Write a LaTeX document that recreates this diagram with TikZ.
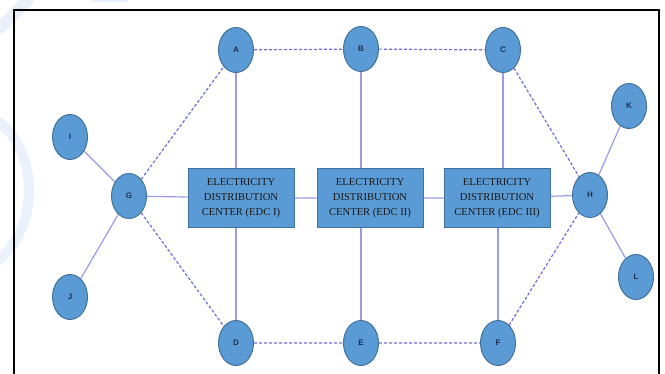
\documentclass[tikz,border=0pt]{standalone}
\usepackage{fontspec}
\setmainfont{Liberation Serif}
\newfontfamily\labelfont{Liberation Sans}
\usetikzlibrary{positioning,shapes.geometric}
\definecolor{nodeblue}{HTML}{5B9BD5}
\definecolor{rimblue}{HTML}{41719C}
\definecolor{feedline}{HTML}{9A9AE8}
\definecolor{tieline}{HTML}{6E6EDC}
\definecolor{markblue}{HTML}{EAF1FA}
\definecolor{letterblue}{HTML}{1F2F4F}

\begin{document}
\begin{tikzpicture}[x=1pt,y=-1pt,
				station/.style={ellipse,draw=rimblue,fill=nodeblue,line width=1pt,minimum width=35pt,minimum height=45pt,
					inner sep=0pt,font=\labelfont\fontsize{8}{9}\selectfont\bfseries,text=letterblue},
				edc/.style={rectangle,draw=rimblue,fill=nodeblue,line width=1pt,minimum width=106pt,minimum height=59pt,
					inner sep=0pt,align=center,text=black!90,font=\fontsize{10.6}{15}\selectfont},
				feeder/.style={draw=feedline,line width=1.2pt},
				tie/.style={draw=tieline,dashed,dash pattern=on 3pt off 2pt,line width=1.2pt}]
				\useasboundingbox (0,0) rectangle (665,374);
				% faint marks of the page behind
				\draw[markblue,line width=12pt] (30,-2) -- (-2,30);
				\draw[markblue,line width=8pt] (92,-2) -- (128,-2);
				\draw[markblue,line width=10pt] (-4,120) .. controls (40,150) and (40,230) .. (-4,262);
				\draw[black,line width=2pt] (14,376) -- (14,10) -- (659,10) -- (659,376);

				\node (EDC1) [edc] at (241,198) {ELECTRICITY\\DISTRIBUTION\\CENTER (EDC I)};
				\node (EDC2) [edc] at (370,198) {ELECTRICITY\\DISTRIBUTION\\CENTER (EDC II)};
				\node (EDC3) [edc] at (497,198) {ELECTRICITY\\DISTRIBUTION\\CENTER (EDC III)};

				\node (A) [station] at (236,50)  {A};
				\node (B) [station] at (361,49)  {B};
				\node (C) [station] at (503,50)  {C};
				\node (D) [station] at (236,343) {D};
				\node (E) [station] at (361,343) {E};
				\node (F) [station] at (498,343) {F};
				\node (G) [station] at (129,196) {G};
				\node (H) [station] at (590,195) {H};
				\node (I) [station] at (70,137)  {I};
				\node (J) [station] at (70,297)  {J};
				\node (K) [station] at (629,106) {K};
				\node (L) [station] at (636,277) {L};

				\draw[feeder] (G) -- (EDC1) (EDC1) -- (EDC2) (EDC2) -- (EDC3) (EDC3) -- (H);
				\draw[feeder] (A) -- (A |- EDC1.north) (D) -- (D |- EDC1.south);
				\draw[feeder] (B) -- (B |- EDC2.north) (E) -- (E |- EDC2.south);
				\draw[feeder] (C) -- (C |- EDC3.north) (F) -- (F |- EDC3.south);
				\draw[feeder] (I) -- (G) (J) -- (G) (K) -- (H) (L) -- (H);

				\draw[tie] (A) -- (B) (B) -- (C) (D) -- (E) (E) -- (F);
				\draw[tie] (G) -- (A) (G) -- (D) (C) -- (H) (F) -- (H);
			\end{tikzpicture}
\end{document}
